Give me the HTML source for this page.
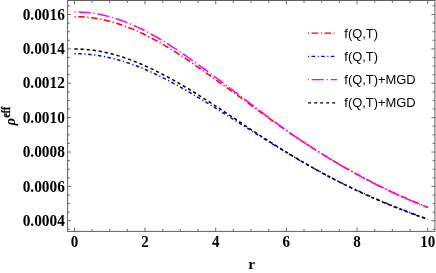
<!DOCTYPE html>
<html><head><meta charset="utf-8"><title>plot</title>
<style>
html,body{margin:0;padding:0;background:#fff;}
body{width:436px;height:273px;overflow:hidden;position:relative;}
svg{position:absolute;left:0;top:0;display:block;will-change:transform;}
.tk{font-family:"Liberation Serif",serif;font-weight:bold;font-size:16.4px;fill:#000;}
.lg{font-family:"Liberation Sans",sans-serif;font-size:12.3px;fill:#000;}
</style></head><body>
<svg width="436" height="273" viewBox="0 0 436 273">
<rect x="0" y="0" width="436" height="273" fill="#ffffff"/>

<g fill="none" stroke-width="1.5" stroke-linecap="butt" stroke-linejoin="round">
<path d="M74.40,16.67 L75.88,16.68 L77.36,16.71 L78.84,16.75 L80.31,16.80 L81.79,16.87 L83.27,16.96 L84.75,17.07 L86.23,17.19 L87.71,17.32 L89.19,17.48 L90.67,17.65 L92.14,17.83 L93.62,18.04 L95.10,18.26 L96.58,18.49 L98.06,18.74 L99.54,19.01 L101.02,19.30 L102.49,19.60 L103.97,19.92 L105.45,20.26 L106.93,20.61 L108.41,20.98 L109.89,21.37 L111.37,21.77 L112.85,22.19 L114.32,22.62 L115.80,23.07 L117.28,23.53 L118.76,24.00 L120.24,24.49 L121.72,25.00 L123.20,25.52 L124.67,26.05 L126.15,26.59 L127.63,27.16 L129.11,27.73 L130.59,28.32 L132.07,28.92 L133.55,29.54 L135.03,30.17 L136.50,30.81 L137.98,31.47 L139.46,32.14 L140.94,32.83 L142.42,33.53 L143.90,34.24 L145.38,34.97 L146.85,35.70 L148.33,36.45 L149.81,37.21 L151.29,37.99 L152.77,38.77 L154.25,39.56 L155.73,40.37 L157.21,41.18 L158.68,42.01 L160.16,42.85 L161.64,43.69 L163.12,44.55 L164.60,45.41 L166.08,46.29 L167.56,47.17 L169.03,48.06 L170.51,48.97 L171.99,49.88 L173.47,50.80 L174.95,51.73 L176.43,52.66 L177.91,53.61 L179.38,54.56 L180.86,55.52 L182.34,56.48 L183.82,57.46 L185.30,58.44 L186.78,59.43 L188.26,60.42 L189.74,61.42 L191.21,62.43 L192.69,63.44 L194.17,64.46 L195.65,65.48 L197.13,66.51 L198.61,67.54 L200.09,68.58 L201.56,69.62 L203.04,70.66 L204.52,71.71 L206.00,72.76 L207.48,73.81 L208.96,74.86 L210.44,75.92 L211.92,76.98 L213.39,78.04 L214.87,79.10 L216.35,80.17 L217.83,81.23 L219.31,82.29 L220.79,83.36 L222.27,84.42 L223.74,85.49 L225.22,86.55 L226.70,87.62 L228.18,88.69 L229.66,89.75 L231.14,90.82 L232.62,91.89 L234.10,92.96 L235.57,94.03 L237.05,95.10 L238.53,96.17 L240.01,97.25 L241.49,98.32 L242.97,99.39 L244.45,100.47 L245.92,101.55 L247.40,102.62 L248.88,103.70 L250.36,104.78 L251.84,105.86 L253.32,106.94 L254.80,108.02 L256.28,109.10 L257.75,110.17 L259.23,111.24 L260.71,112.32 L262.19,113.39 L263.67,114.46 L265.15,115.52 L266.63,116.59 L268.10,117.65 L269.58,118.71 L271.06,119.77 L272.54,120.83 L274.02,121.88 L275.50,122.93 L276.98,123.98 L278.46,125.03 L279.93,126.07 L281.41,127.11 L282.89,128.15 L284.37,129.18 L285.85,130.22 L287.33,131.24 L288.81,132.27 L290.28,133.29 L291.76,134.30 L293.24,135.31 L294.72,136.31 L296.20,137.31 L297.68,138.30 L299.16,139.29 L300.64,140.27 L302.11,141.25 L303.59,142.22 L305.07,143.19 L306.55,144.16 L308.03,145.11 L309.51,146.07 L310.99,147.02 L312.46,147.96 L313.94,148.90 L315.42,149.83 L316.90,150.76 L318.38,151.69 L319.86,152.61 L321.34,153.52 L322.82,154.43 L324.29,155.34 L325.77,156.24 L327.25,157.14 L328.73,158.03 L330.21,158.92 L331.69,159.80 L333.17,160.68 L334.64,161.55 L336.12,162.42 L337.60,163.29 L339.08,164.15 L340.56,165.01 L342.04,165.86 L343.52,166.71 L344.99,167.55 L346.47,168.39 L347.95,169.22 L349.43,170.05 L350.91,170.88 L352.39,171.70 L353.87,172.52 L355.35,173.33 L356.82,174.14 L358.30,174.94 L359.78,175.74 L361.26,176.54 L362.74,177.32 L364.22,178.11 L365.70,178.89 L367.17,179.66 L368.65,180.43 L370.13,181.20 L371.61,181.96 L373.09,182.71 L374.57,183.46 L376.05,184.21 L377.53,184.95 L379.00,185.68 L380.48,186.41 L381.96,187.14 L383.44,187.85 L384.92,188.57 L386.40,189.28 L387.88,189.98 L389.35,190.68 L390.83,191.37 L392.31,192.06 L393.79,192.74 L395.27,193.42 L396.75,194.09 L398.23,194.75 L399.71,195.41 L401.18,196.07 L402.66,196.72 L404.14,197.37 L405.62,198.01 L407.10,198.65 L408.58,199.28 L410.06,199.92 L411.53,200.55 L413.01,201.17 L414.49,201.80 L415.97,202.42 L417.45,203.04 L418.93,203.66 L420.41,204.28 L421.89,204.90 L423.36,205.51 L424.84,206.12 L426.32,206.74 L427.80,207.35" stroke="#ff0000" stroke-dasharray="1.2 2.6 6.45 2.6" stroke-dashoffset="-0.15"/>
<path d="M74.40,53.72 L75.88,53.72 L77.36,53.74 L78.84,53.76 L80.31,53.81 L81.79,53.87 L83.27,53.94 L84.75,54.03 L86.23,54.13 L87.71,54.25 L89.19,54.38 L90.67,54.53 L92.14,54.69 L93.62,54.86 L95.10,55.05 L96.58,55.26 L98.06,55.48 L99.54,55.71 L101.02,55.96 L102.49,56.22 L103.97,56.50 L105.45,56.79 L106.93,57.10 L108.41,57.42 L109.89,57.76 L111.37,58.11 L112.85,58.47 L114.32,58.84 L115.80,59.23 L117.28,59.63 L118.76,60.04 L120.24,60.47 L121.72,60.90 L123.20,61.35 L124.67,61.82 L126.15,62.29 L127.63,62.78 L129.11,63.28 L130.59,63.79 L132.07,64.31 L133.55,64.85 L135.03,65.39 L136.50,65.95 L137.98,66.52 L139.46,67.11 L140.94,67.70 L142.42,68.31 L143.90,68.92 L145.38,69.55 L146.85,70.19 L148.33,70.84 L149.81,71.50 L151.29,72.17 L152.77,72.85 L154.25,73.54 L155.73,74.24 L157.21,74.95 L158.68,75.67 L160.16,76.40 L161.64,77.13 L163.12,77.88 L164.60,78.63 L166.08,79.39 L167.56,80.16 L169.03,80.93 L170.51,81.71 L171.99,82.50 L173.47,83.30 L174.95,84.10 L176.43,84.91 L177.91,85.73 L179.38,86.55 L180.86,87.38 L182.34,88.21 L183.82,89.05 L185.30,89.89 L186.78,90.74 L188.26,91.60 L189.74,92.46 L191.21,93.32 L192.69,94.19 L194.17,95.07 L195.65,95.95 L197.13,96.83 L198.61,97.72 L200.09,98.61 L201.56,99.51 L203.04,100.41 L204.52,101.31 L206.00,102.22 L207.48,103.13 L208.96,104.05 L210.44,104.96 L211.92,105.88 L213.39,106.81 L214.87,107.73 L216.35,108.66 L217.83,109.58 L219.31,110.51 L220.79,111.44 L222.27,112.37 L223.74,113.30 L225.22,114.23 L226.70,115.16 L228.18,116.09 L229.66,117.02 L231.14,117.95 L232.62,118.88 L234.10,119.81 L235.57,120.74 L237.05,121.68 L238.53,122.61 L240.01,123.54 L241.49,124.48 L242.97,125.41 L244.45,126.35 L245.92,127.29 L247.40,128.23 L248.88,129.17 L250.36,130.11 L251.84,131.05 L253.32,131.99 L254.80,132.93 L256.28,133.86 L257.75,134.79 L259.23,135.73 L260.71,136.66 L262.19,137.59 L263.67,138.51 L265.15,139.44 L266.63,140.36 L268.10,141.28 L269.58,142.20 L271.06,143.11 L272.54,144.03 L274.02,144.94 L275.50,145.85 L276.98,146.75 L278.46,147.66 L279.93,148.56 L281.41,149.46 L282.89,150.36 L284.37,151.25 L285.85,152.15 L287.33,153.04 L288.81,153.92 L290.28,154.81 L291.76,155.69 L293.24,156.57 L294.72,157.44 L296.20,158.31 L297.68,159.18 L299.16,160.05 L300.64,160.91 L302.11,161.76 L303.59,162.61 L305.07,163.46 L306.55,164.31 L308.03,165.15 L309.51,165.98 L310.99,166.81 L312.46,167.64 L313.94,168.46 L315.42,169.28 L316.90,170.09 L318.38,170.90 L319.86,171.70 L321.34,172.50 L322.82,173.29 L324.29,174.08 L325.77,174.86 L327.25,175.64 L328.73,176.41 L330.21,177.17 L331.69,177.94 L333.17,178.69 L334.64,179.45 L336.12,180.19 L337.60,180.94 L339.08,181.68 L340.56,182.41 L342.04,183.14 L343.52,183.87 L344.99,184.59 L346.47,185.31 L347.95,186.02 L349.43,186.73 L350.91,187.44 L352.39,188.15 L353.87,188.85 L355.35,189.54 L356.82,190.24 L358.30,190.93 L359.78,191.61 L361.26,192.29 L362.74,192.97 L364.22,193.64 L365.70,194.31 L367.17,194.98 L368.65,195.64 L370.13,196.29 L371.61,196.95 L373.09,197.60 L374.57,198.24 L376.05,198.88 L377.53,199.52 L379.00,200.15 L380.48,200.78 L381.96,201.40 L383.44,202.02 L384.92,202.64 L386.40,203.25 L387.88,203.86 L389.35,204.46 L390.83,205.06 L392.31,205.66 L393.79,206.25 L395.27,206.84 L396.75,207.43 L398.23,208.01 L399.71,208.59 L401.18,209.17 L402.66,209.74 L404.14,210.31 L405.62,210.88 L407.10,211.44 L408.58,212.01 L410.06,212.57 L411.53,213.13 L413.01,213.68 L414.49,214.24 L415.97,214.80 L417.45,215.35 L418.93,215.90 L420.41,216.46 L421.89,217.01 L423.36,217.56 L424.84,218.11 L426.32,218.66 L427.80,219.21" stroke="#0000ff" stroke-dasharray="1.2 2.55 3.5 2.58" stroke-dashoffset="-0.15"/>
<path d="M74.40,11.92 L75.88,11.93 L77.36,11.96 L78.84,12.00 L80.31,12.06 L81.79,12.13 L83.27,12.22 L84.75,12.33 L86.23,12.46 L87.71,12.60 L89.19,12.76 L90.67,12.94 L92.14,13.13 L93.62,13.34 L95.10,13.57 L96.58,13.81 L98.06,14.07 L99.54,14.35 L101.02,14.64 L102.49,14.95 L103.97,15.28 L105.45,15.63 L106.93,15.99 L108.41,16.37 L109.89,16.77 L111.37,17.18 L112.85,17.62 L114.32,18.06 L115.80,18.53 L117.28,19.01 L118.76,19.51 L120.24,20.02 L121.72,20.55 L123.20,21.10 L124.67,21.66 L126.15,22.23 L127.63,22.82 L129.11,23.43 L130.59,24.05 L132.07,24.68 L133.55,25.33 L135.03,26.00 L136.50,26.67 L137.98,27.37 L139.46,28.07 L140.94,28.79 L142.42,29.52 L143.90,30.26 L145.38,31.02 L146.85,31.79 L148.33,32.57 L149.81,33.37 L151.29,34.17 L152.77,34.99 L154.25,35.82 L155.73,36.66 L157.21,37.51 L158.68,38.37 L160.16,39.25 L161.64,40.13 L163.12,41.02 L164.60,41.92 L166.08,42.84 L167.56,43.76 L169.03,44.69 L170.51,45.63 L171.99,46.57 L173.47,47.53 L174.95,48.49 L176.43,49.47 L177.91,50.45 L179.38,51.43 L180.86,52.43 L182.34,53.43 L183.82,54.44 L185.30,55.45 L186.78,56.47 L188.26,57.50 L189.74,58.53 L191.21,59.57 L192.69,60.61 L194.17,61.66 L195.65,62.72 L197.13,63.78 L198.61,64.84 L200.09,65.91 L201.56,66.98 L203.04,68.06 L204.52,69.14 L206.00,70.22 L207.48,71.31 L208.96,72.40 L210.44,73.49 L211.92,74.58 L213.39,75.68 L214.87,76.78 L216.35,77.88 L217.83,78.99 L219.31,80.09 L220.79,81.20 L222.27,82.31 L223.74,83.42 L225.22,84.53 L226.70,85.64 L228.18,86.76 L229.66,87.87 L231.14,88.99 L232.62,90.11 L234.10,91.23 L235.57,92.35 L237.05,93.47 L238.53,94.59 L240.01,95.71 L241.49,96.83 L242.97,97.95 L244.45,99.07 L245.92,100.19 L247.40,101.32 L248.88,102.44 L250.36,103.56 L251.84,104.68 L253.32,105.81 L254.80,106.93 L256.28,108.05 L257.75,109.17 L259.23,110.28 L260.71,111.40 L262.19,112.52 L263.67,113.63 L265.15,114.74 L266.63,115.85 L268.10,116.95 L269.58,118.05 L271.06,119.15 L272.54,120.25 L274.02,121.34 L275.50,122.43 L276.98,123.51 L278.46,124.59 L279.93,125.66 L281.41,126.73 L282.89,127.80 L284.37,128.86 L285.85,129.91 L287.33,130.96 L288.81,132.00 L290.28,133.03 L291.76,134.06 L293.24,135.09 L294.72,136.10 L296.20,137.12 L297.68,138.12 L299.16,139.12 L300.64,140.12 L302.11,141.11 L303.59,142.10 L305.07,143.08 L306.55,144.05 L308.03,145.02 L309.51,145.98 L310.99,146.94 L312.46,147.90 L313.94,148.85 L315.42,149.79 L316.90,150.73 L318.38,151.67 L319.86,152.60 L321.34,153.52 L322.82,154.44 L324.29,155.36 L325.77,156.27 L327.25,157.18 L328.73,158.08 L330.21,158.97 L331.69,159.87 L333.17,160.76 L334.64,161.64 L336.12,162.52 L337.60,163.39 L339.08,164.26 L340.56,165.13 L342.04,165.99 L343.52,166.84 L344.99,167.69 L346.47,168.54 L347.95,169.38 L349.43,170.22 L350.91,171.05 L352.39,171.88 L353.87,172.70 L355.35,173.52 L356.82,174.34 L358.30,175.15 L359.78,175.95 L361.26,176.75 L362.74,177.55 L364.22,178.34 L365.70,179.12 L367.17,179.90 L368.65,180.68 L370.13,181.45 L371.61,182.21 L373.09,182.97 L374.57,183.73 L376.05,184.48 L377.53,185.22 L379.00,185.96 L380.48,186.70 L381.96,187.42 L383.44,188.15 L384.92,188.86 L386.40,189.57 L387.88,190.28 L389.35,190.98 L390.83,191.67 L392.31,192.36 L393.79,193.04 L395.27,193.72 L396.75,194.39 L398.23,195.05 L399.71,195.71 L401.18,196.37 L402.66,197.02 L404.14,197.67 L405.62,198.31 L407.10,198.95 L408.58,199.58 L410.06,200.22 L411.53,200.85 L413.01,201.47 L414.49,202.10 L415.97,202.72 L417.45,203.34 L418.93,203.96 L420.41,204.58 L421.89,205.20 L423.36,205.81 L424.84,206.42 L426.32,207.04 L427.80,207.65" stroke="#ff00ff" stroke-dasharray="1.2 2.85 12.1 2.85" stroke-dashoffset="-0.15"/>
<path d="M74.40,49.05 L75.88,49.06 L77.36,49.08 L78.84,49.12 L80.31,49.18 L81.79,49.25 L83.27,49.33 L84.75,49.43 L86.23,49.55 L87.71,49.68 L89.19,49.83 L90.67,49.99 L92.14,50.17 L93.62,50.36 L95.10,50.57 L96.58,50.79 L98.06,51.03 L99.54,51.28 L101.02,51.55 L102.49,51.83 L103.97,52.12 L105.45,52.44 L106.93,52.76 L108.41,53.10 L109.89,53.46 L111.37,53.83 L112.85,54.21 L114.32,54.61 L115.80,55.03 L117.28,55.45 L118.76,55.89 L120.24,56.35 L121.72,56.81 L123.20,57.30 L124.67,57.79 L126.15,58.29 L127.63,58.81 L129.11,59.35 L130.59,59.89 L132.07,60.44 L133.55,61.01 L135.03,61.59 L136.50,62.18 L137.98,62.78 L139.46,63.40 L140.94,64.02 L142.42,64.66 L143.90,65.30 L145.38,65.96 L146.85,66.62 L148.33,67.30 L149.81,67.99 L151.29,68.68 L152.77,69.39 L154.25,70.10 L155.73,70.83 L157.21,71.56 L158.68,72.30 L160.16,73.05 L161.64,73.81 L163.12,74.58 L164.60,75.35 L166.08,76.14 L167.56,76.93 L169.03,77.73 L170.51,78.54 L171.99,79.35 L173.47,80.17 L174.95,81.00 L176.43,81.84 L177.91,82.68 L179.38,83.53 L180.86,84.38 L182.34,85.25 L183.82,86.11 L185.30,86.99 L186.78,87.87 L188.26,88.75 L189.74,89.64 L191.21,90.54 L192.69,91.44 L194.17,92.35 L195.65,93.26 L197.13,94.18 L198.61,95.10 L200.09,96.03 L201.56,96.96 L203.04,97.89 L204.52,98.83 L206.00,99.77 L207.48,100.72 L208.96,101.67 L210.44,102.62 L211.92,103.58 L213.39,104.54 L214.87,105.51 L216.35,106.47 L217.83,107.44 L219.31,108.42 L220.79,109.39 L222.27,110.37 L223.74,111.35 L225.22,112.33 L226.70,113.31 L228.18,114.30 L229.66,115.28 L231.14,116.27 L232.62,117.26 L234.10,118.25 L235.57,119.23 L237.05,120.22 L238.53,121.21 L240.01,122.20 L241.49,123.19 L242.97,124.17 L244.45,125.16 L245.92,126.14 L247.40,127.13 L248.88,128.11 L250.36,129.09 L251.84,130.07 L253.32,131.04 L254.80,132.02 L256.28,132.99 L257.75,133.96 L259.23,134.93 L260.71,135.89 L262.19,136.85 L263.67,137.81 L265.15,138.77 L266.63,139.72 L268.10,140.67 L269.58,141.62 L271.06,142.57 L272.54,143.51 L274.02,144.45 L275.50,145.38 L276.98,146.32 L278.46,147.25 L279.93,148.17 L281.41,149.09 L282.89,150.01 L284.37,150.93 L285.85,151.84 L287.33,152.75 L288.81,153.65 L290.28,154.55 L291.76,155.45 L293.24,156.34 L294.72,157.23 L296.20,158.11 L297.68,159.00 L299.16,159.87 L300.64,160.74 L302.11,161.61 L303.59,162.48 L305.07,163.34 L306.55,164.19 L308.03,165.04 L309.51,165.89 L310.99,166.73 L312.46,167.57 L313.94,168.40 L315.42,169.23 L316.90,170.05 L318.38,170.87 L319.86,171.69 L321.34,172.50 L322.82,173.30 L324.29,174.10 L325.77,174.90 L327.25,175.69 L328.73,176.47 L330.21,177.25 L331.69,178.03 L333.17,178.80 L334.64,179.57 L336.12,180.33 L337.60,181.09 L339.08,181.84 L340.56,182.59 L342.04,183.34 L343.52,184.08 L344.99,184.81 L346.47,185.54 L347.95,186.27 L349.43,186.99 L350.91,187.71 L352.39,188.42 L353.87,189.13 L355.35,189.83 L356.82,190.54 L358.30,191.23 L359.78,191.92 L361.26,192.61 L362.74,193.29 L364.22,193.97 L365.70,194.65 L367.17,195.32 L368.65,195.99 L370.13,196.65 L371.61,197.31 L373.09,197.96 L374.57,198.61 L376.05,199.25 L377.53,199.89 L379.00,200.53 L380.48,201.16 L381.96,201.79 L383.44,202.41 L384.92,203.03 L386.40,203.65 L387.88,204.26 L389.35,204.86 L390.83,205.46 L392.31,206.06 L393.79,206.65 L395.27,207.24 L396.75,207.83 L398.23,208.41 L399.71,208.99 L401.18,209.56 L402.66,210.13 L404.14,210.70 L405.62,211.26 L407.10,211.83 L408.58,212.38 L410.06,212.94 L411.53,213.50 L413.01,214.05 L414.49,214.60 L415.97,215.15 L417.45,215.70 L418.93,216.25 L420.41,216.79 L421.89,217.34 L423.36,217.88 L424.84,218.42 L426.32,218.97 L427.80,219.51" stroke="#000000" stroke-dasharray="3.3 2.79"/>
</g>
<g stroke="#606060" stroke-width="1" fill="none">
<rect x="67.6" y="0.5" width="367.29999999999995" height="230.9"/>
<path d="M74.40,231.4v-3.8M74.40,0.5v3.8M92.06,231.4v-2.4M92.06,0.5v2.4M109.73,231.4v-2.4M109.73,0.5v2.4M127.40,231.4v-2.4M127.40,0.5v2.4M145.06,231.4v-3.8M145.06,0.5v3.8M162.72,231.4v-2.4M162.72,0.5v2.4M180.39,231.4v-2.4M180.39,0.5v2.4M198.06,231.4v-2.4M198.06,0.5v2.4M215.72,231.4v-3.8M215.72,0.5v3.8M233.38,231.4v-2.4M233.38,0.5v2.4M251.05,231.4v-2.4M251.05,0.5v2.4M268.72,231.4v-2.4M268.72,0.5v2.4M286.38,231.4v-3.8M286.38,0.5v3.8M304.04,231.4v-2.4M304.04,0.5v2.4M321.71,231.4v-2.4M321.71,0.5v2.4M339.38,231.4v-2.4M339.38,0.5v2.4M357.04,231.4v-3.8M357.04,0.5v3.8M374.71,231.4v-2.4M374.71,0.5v2.4M392.37,231.4v-2.4M392.37,0.5v2.4M410.03,231.4v-2.4M410.03,0.5v2.4M427.70,231.4v-3.8M427.70,0.5v3.8M67.6,229.38h2.3M434.9,229.38h-2.3M67.6,220.78h3.5M434.9,220.78h-3.5M67.6,212.19h2.3M434.9,212.19h-2.3M67.6,203.59h2.3M434.9,203.59h-2.3M67.6,195.00h2.3M434.9,195.00h-2.3M67.6,186.40h3.5M434.9,186.40h-3.5M67.6,177.81h2.3M434.9,177.81h-2.3M67.6,169.21h2.3M434.9,169.21h-2.3M67.6,160.62h2.3M434.9,160.62h-2.3M67.6,152.02h3.5M434.9,152.02h-3.5M67.6,143.43h2.3M434.9,143.43h-2.3M67.6,134.83h2.3M434.9,134.83h-2.3M67.6,126.23h2.3M434.9,126.23h-2.3M67.6,117.64h3.5M434.9,117.64h-3.5M67.6,109.04h2.3M434.9,109.04h-2.3M67.6,100.45h2.3M434.9,100.45h-2.3M67.6,91.86h2.3M434.9,91.86h-2.3M67.6,83.26h3.5M434.9,83.26h-3.5M67.6,74.67h2.3M434.9,74.67h-2.3M67.6,66.07h2.3M434.9,66.07h-2.3M67.6,57.48h2.3M434.9,57.48h-2.3M67.6,48.88h3.5M434.9,48.88h-3.5M67.6,40.28h2.3M434.9,40.28h-2.3M67.6,31.69h2.3M434.9,31.69h-2.3M67.6,23.10h2.3M434.9,23.10h-2.3M67.6,14.50h3.5M434.9,14.50h-3.5M67.6,5.91h2.3M434.9,5.91h-2.3" stroke="#5c5c5c" stroke-width="0.9"/>
</g>
<text class="tk" transform="translate(74.40,247.0) scale(0.92,1)" text-anchor="middle">0</text>
<text class="tk" transform="translate(145.06,247.0) scale(0.92,1)" text-anchor="middle">2</text>
<text class="tk" transform="translate(215.72,247.0) scale(0.92,1)" text-anchor="middle">4</text>
<text class="tk" transform="translate(286.38,247.0) scale(0.92,1)" text-anchor="middle">6</text>
<text class="tk" transform="translate(357.04,247.0) scale(0.92,1)" text-anchor="middle">8</text>
<text class="tk" transform="translate(427.70,247.0) scale(0.92,1)" text-anchor="middle">10</text>
<text class="tk" transform="translate(64.8,225.98) scale(0.935,1)" text-anchor="end">0.0004</text>
<text class="tk" transform="translate(64.8,191.60) scale(0.935,1)" text-anchor="end">0.0006</text>
<text class="tk" transform="translate(64.8,157.22) scale(0.935,1)" text-anchor="end">0.0008</text>
<text class="tk" transform="translate(64.8,122.84) scale(0.935,1)" text-anchor="end">0.0010</text>
<text class="tk" transform="translate(64.8,88.46) scale(0.935,1)" text-anchor="end">0.0012</text>
<text class="tk" transform="translate(64.8,54.08) scale(0.935,1)" text-anchor="end">0.0014</text>
<text class="tk" transform="translate(64.8,19.70) scale(0.935,1)" text-anchor="end">0.0016</text>
<text x="251.6" y="269" text-anchor="middle" style="font-family:'Liberation Serif',serif;font-weight:bold;font-size:15.5px">r</text>
<g transform="translate(15.0,125.6) rotate(-90)"><text x="0" y="0" style="font-family:'Liberation Serif',serif;font-weight:bold;font-style:italic;font-size:14.5px">ρ</text><text transform="translate(8.1,-5.4) scale(0.8,1)" stroke="#000" stroke-width="0.3" style="font-family:'Liberation Serif',serif;font-weight:bold;font-size:12px">eff</text></g>
<path d="M308.0,33.1H334.7" stroke="#ff0000" stroke-width="1.35" stroke-dasharray="1 2.6 6.7 2.6" fill="none"/>
<text class="lg" transform="translate(344.3,38.3) scale(1.05,1)">f(Q,T)</text>
<path d="M308.0,56.3H334.8" stroke="#0000ff" stroke-width="1.35" stroke-dasharray="1 2.45 3.6 2.65" fill="none"/>
<text class="lg" transform="translate(344.3,60.7) scale(1.05,1)">f(Q,T)</text>
<path d="M307.9,79.6H337.0" stroke="#ff00ff" stroke-width="1.35" stroke-dasharray="1 2.85 12 3.15" fill="none"/>
<text class="lg" transform="translate(344.3,83.8) scale(1.05,1)">f(Q,T)+MGD</text>
<path d="M308.05,102.85H335.3" stroke="#000000" stroke-width="1.35" stroke-dasharray="2.95 3.1" fill="none"/>
<text class="lg" transform="translate(344.3,106.9) scale(1.05,1)">f(Q,T)+MGD</text>
</svg></body></html>
